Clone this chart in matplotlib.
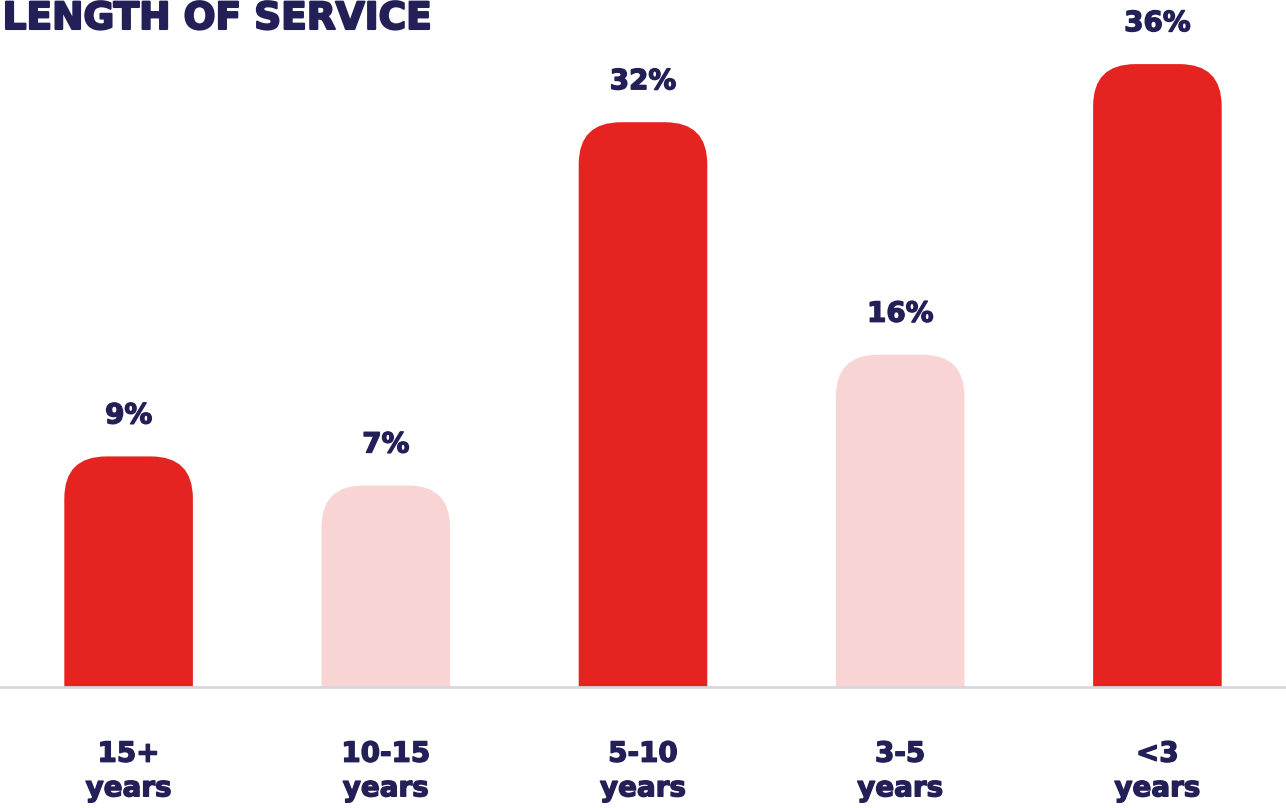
import numpy as np
import matplotlib
matplotlib.use('Agg')
import matplotlib.pyplot as plt
import matplotlib.patheffects as pe
from matplotlib.patches import FancyBboxPatch

# length of service breakdown
categories = ["15+\nyears", "10-15\nyears", "5-10\nyears", "3-5\nyears", "<3\nyears"]
values = [9, 7, 32, 16, 36]
highlight = [True, False, True, False, True]

RED = '#e52421'
PINK = '#f9d4d4'
NAVY = '#222057'
GRID = '#d6d6de'

plt.rcParams['font.family'] = ['DejaVu Sans']
# thicken the bold glyphs a bit
heavy = [pe.withStroke(linewidth=1.0, foreground=NAVY)]

base = -6.87
fig = plt.figure(figsize=(12.86, 8.08), dpi=100)
ax = fig.add_axes([0, 121/808., 1, 687/808.])
ax.set_xlim(-0.5, 4.5)
ax.set_ylim(base, base + 687/14.53)
ax.axis('off')

x = np.arange(len(values))
vals = np.array(values, dtype=float)
colors = [RED if h else PINK for h in highlight]
bars = ax.bar(x, vals - base, bottom=base, width=0.5, color=colors)

# swap the plain rectangles for ones with rounded tops
rx = 42/256.6   # corner radius in x units
ry = 42/14.53   # same radius in y units
for b, c in zip(bars, colors):
    bx, by = b.get_x(), b.get_y()
    bw, bh = b.get_width(), b.get_height()
    b.remove()
    p = FancyBboxPatch((bx, by - ry), bw, bh + ry,
                       boxstyle="round,pad=0,rounding_size=%f" % rx,
                       mutation_aspect=ry/rx, fc=c, ec='none', zorder=2)
    ax.add_patch(p)

ax.axhline(base, color=GRID, lw=2, zorder=3, clip_on=False)

for xi, v in zip(x, values):
    ax.annotate("%d%%" % v, (xi, v), xytext=(0, 41*0.72), textcoords='offset points',
                ha='center', va='center', fontsize=20, fontweight='bold', color=NAVY,
                path_effects=heavy)

for xi, lab in zip(x, categories):
    ax.annotate(lab, (xi, base), xytext=(0, -84*0.72), textcoords='offset points',
                ha='center', va='center', fontsize=20, fontweight='bold', color=NAVY,
                linespacing=1.3, annotation_clip=False, path_effects=heavy)

fig.text(0.002, 1 - 19/808., "LENGTH OF SERVICE", ha='left', va='center',
         fontsize=27, fontweight='bold', color=NAVY,
         path_effects=[pe.withStroke(linewidth=1.5, foreground=NAVY)])

fig.savefig('out.png', dpi=100)
